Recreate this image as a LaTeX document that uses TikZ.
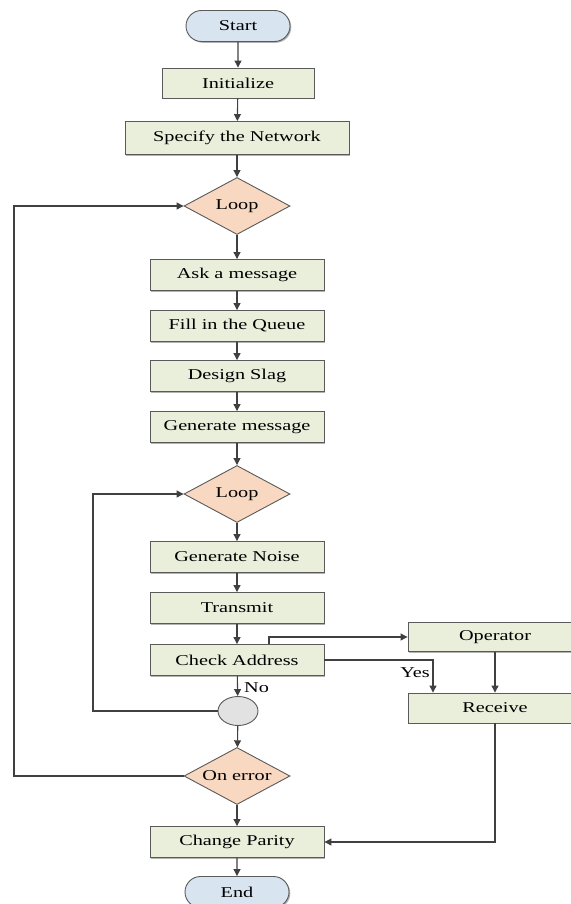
\documentclass[tikz,border=0pt]{standalone}
\usepackage{fontspec}
\setmainfont{Liberation Serif}[FakeStretch=1.35]
\usetikzlibrary{shapes.geometric,shapes.misc,arrows.meta,shadows}

\definecolor{linec}{HTML}{404040}
\definecolor{edgec}{HTML}{5A5A5A}
\definecolor{boxfill}{HTML}{EAEFDC}
\definecolor{termfill}{HTML}{D8E4F0}
\definecolor{decfill}{HTML}{F9D8C2}
\definecolor{joinfill}{HTML}{E2E2E2}

\tikzset{
  base/.style={draw=edgec, line width=0.9bp, inner sep=0pt, text=black,
    font=\fontsize{15bp}{18bp}\selectfont},
  boxshadow/.style={drop shadow={shadow xshift=1.3bp, shadow yshift=-1.3bp,
    opacity=0.3, fill=black}},
  procbox/.style={base, rectangle, fill=boxfill, minimum width=174bp,
    minimum height=31bp, boxshadow},
  termbox/.style={base, rounded rectangle, fill=termfill, minimum width=104bp,
    minimum height=31bp, boxshadow},
  decbox/.style={base, diamond, aspect=1.9, fill=decfill, minimum width=106bp,
    minimum height=57bp},
  joinbox/.style={base, ellipse, fill=joinfill, minimum width=40bp,
    minimum height=29bp},
  flow/.style={draw=linec, line width=1.1bp,
    -{Triangle[length=7bp,width=7bp]}},
  lbl/.style={inner sep=0pt, font=\fontsize{15bp}{18bp}\selectfont}
}

\begin{document}
\begin{tikzpicture}[x=1bp, y=-1bp]
  \useasboundingbox (0,0) rectangle (571,904);

  % main column
  \node[termbox] (start)  at (238,26)  {Start};
  \node[procbox, minimum width=152bp, minimum height=30bp] (init) at (238,83) {Initialize};
  \node[procbox, minimum width=224bp, minimum height=33bp] (spec) at (237,138) {Specify the Network};
  \node[decbox]  (loop1)  at (237,206) {Loop};
  \node[procbox] (ask)    at (237,275) {Ask a message};
  \node[procbox] (fill)   at (237,326) {Fill in the Queue};
  \node[procbox] (design) at (237,376) {Design Slag};
  \node[procbox] (gen)    at (237,427) {Generate message};
  \node[decbox]  (loop2)  at (237,494) {Loop};
  \node[procbox] (noise)  at (237,557) {Generate Noise};
  \node[procbox] (trans)  at (237,608) {Transmit};
  \node[procbox] (check)  at (237,660) {Check Address};
  \node[joinbox] (merge)  at (238,711) {};
  \node[decbox]  (onerr)  at (237,776) {On error};
  \node[procbox] (parity) at (237,842) {Change Parity};
  \node[termbox] (end)    at (237,892) {End};

  % side branch
  \node[procbox, minimum height=29bp] (oper) at (495,637) {Operator};
  \node[procbox, minimum height=30bp] (recv) at (495,708) {Receive};

  % return lines on the left
  \coordinate (outer) at (14,0);
  \coordinate (inner) at (93,0);

  % straight flow
  \draw[flow] (start) -- (init);
  \draw[flow] (init) -- (spec);
  \draw[flow] (spec) -- (loop1);
  \draw[flow] (loop1) -- (ask);
  \draw[flow] (ask) -- (fill);
  \draw[flow] (fill) -- (design);
  \draw[flow] (design) -- (gen);
  \draw[flow] (gen) -- (loop2);
  \draw[flow] (loop2) -- (noise);
  \draw[flow] (noise) -- (trans);
  \draw[flow] (trans) -- (check);
  \draw[flow] (check) -- (merge);
  \draw[flow] (merge) -- (onerr);
  \draw[flow] (onerr) -- (parity);
  \draw[flow] (parity) -- (end);

  \node[lbl, anchor=west] (nolbl) at (244,688) {No};

  % loops back
  \draw[flow] (merge.west) -- (merge.west -| inner) |- (loop2.west);
  \draw[flow] (onerr.west) -- (onerr.west -| outer) |- (loop1.west);

  % branch to operator and receive
  \draw[flow] ([xshift=32bp]check.north) |- (oper.west);
  \draw[flow] (check.east) -| ([xshift=-62bp]recv.north);
  \node[lbl, anchor=east] (yeslbl) at (430,673) {Yes};
  \draw[flow] (oper) -- (recv);
  \draw[flow] (recv.south) |- (parity.east);
\end{tikzpicture}
\end{document}
